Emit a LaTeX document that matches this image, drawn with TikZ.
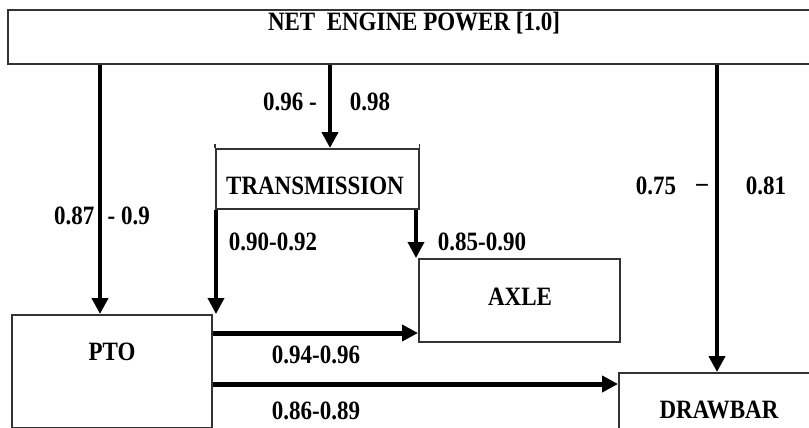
\documentclass[tikz,border=0pt]{standalone}
\usepackage{fontspec}
\setmainfont{Liberation Serif}
\usetikzlibrary{arrows.meta,calc}
\newcommand\talltext[1]{\scalebox{1}[1.15]{#1}}
\begin{document}
\begin{tikzpicture}[x=1pt,y=-1pt,
  txt/.style={font=\fontsize{23}{26}\selectfont\bfseries, inner sep=0pt, text=black},
  blk/.style={draw=black!80, line width=1.6pt, inner sep=0pt},
  arr/.style={draw=black, line width=#1, -{Triangle[length=16pt,width=16pt]}},
  arr/.default=4pt]
\useasboundingbox (0,0) rectangle (809,428);
\fill[white] (0,0) rectangle (809,428);
% boxes
\node[blk, anchor=north west, minimum width=830pt, minimum height=54pt] (engine) at (7,9) {};
\node[txt] (enginetxt) at (414,23) {\talltext{NET\ \ ENGINE POWER [1.0]}};
\node[blk, anchor=north west, minimum width=203pt, minimum height=60pt] (trans) at (215,148) {};
\node[txt] (transtxt) at (315,186) {\talltext{TRANSMISSION}};
\draw[black!80, line width=1.6pt] (trans.north west) -- ++(0,-4) (trans.north east) -- ++(0,-4);
\node[blk, anchor=north west, minimum width=200pt, minimum height=113pt] (pto) at (11,314) {};
\node[txt] (ptotxt) at (112,352) {\talltext{PTO}};
\node[blk, anchor=north west, minimum width=201pt, minimum height=83pt] (axle) at (418,258) {};
\node[txt] (axletxt) at (520,297) {\talltext{AXLE}};
\node[blk, anchor=north west, minimum width=220pt, minimum height=56pt] (drawbar) at (618,372) {};
\node[txt] (drawbartxt) at (719,410) {\talltext{DRAWBAR}};
% arrows
\draw[arr=4pt] (engine.south -| 100,0) -- (pto.north -| 100,0);
\draw[arr=4pt] (engine.south -| 330,0) -- (trans.north -| 330,0);
\draw[arr=4pt] (engine.south -| 717,0) -- (drawbar.north -| 717,0);
\draw[arr=3.5pt] (trans.south -| 216,0) -- (pto.north -| 216,0);
\draw[arr=3.5pt] (trans.south -| 416,0) -- (axle.north -| 416,0);
\draw[arr=5pt] (pto.east |- 0,333) -- (axle.west |- 0,333);
\draw[arr=5pt] (pto.east |- 0,384) -- (drawbar.west |- 0,384);
% labels
\node[txt] (l1a) at (290,102) {\talltext{0.96 -}};
\node[txt] (l1b) at (370,102) {\talltext{0.98}};
\node[txt] (l2) at (102,216) {\talltext{0.87\,\, - 0.9}};
\node[txt] (l3) at (273,242) {\talltext{0.90-0.92}};
\node[txt] (l4) at (482,242) {\talltext{0.85-0.90}};
\node[txt] (l5a) at (656,186) {\talltext{0.75}};
\node[txt] (l5b) at (702,188) {\talltext{--}};
\node[txt] (l5c) at (766,186) {\talltext{0.81}};
\node[txt] (l6) at (316,355) {\talltext{0.94-0.96}};
\node[txt] (l7) at (316,411) {\talltext{0.86-0.89}};
\end{tikzpicture}
\end{document}
